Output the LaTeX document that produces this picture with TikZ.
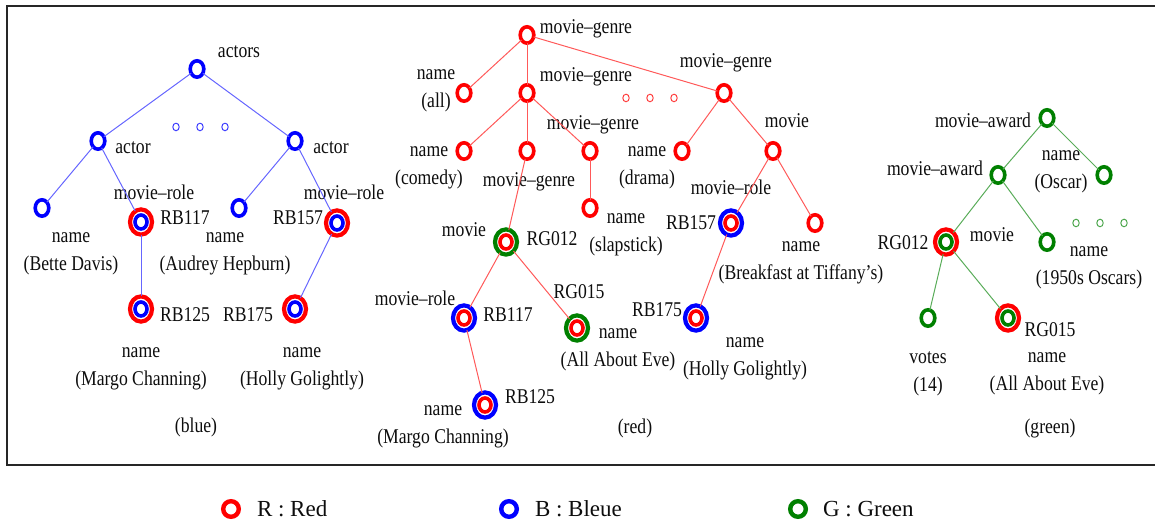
\documentclass[tikz,border=0pt]{standalone}
\usepackage{fontspec}
\setmainfont{Liberation Serif}
\newfontfamily\treefont{Liberation Serif}[FakeStretch=0.84]
\usepackage{tikz}
\usetikzlibrary{shapes.geometric}
\definecolor{darkgreen}{RGB}{0,128,0}

\begin{document}
\begin{tikzpicture}[x=0.5pt,y=-0.5pt,every node/.style={inner sep=0pt,outer sep=0pt},
lbl/.style={font=\treefont\fontsize{10.5pt}{13.75pt}\selectfont,text=black!95,align=center},
key/.style={font=\fontsize{11.5pt}{14pt}\selectfont,text=black!95,anchor=west},
ring/.style={ellipse,draw=#1,line width=1.8pt,minimum width=6.8pt,minimum height=8.2pt},
dring/.style 2 args={ellipse,draw=#1,line width=2.1pt,minimum width=11pt,minimum height=12.6pt,path picture={\draw[#2,line width=1.8pt] (path picture bounding box.center) ellipse (3pt and 3.5pt);}},
dot/.style={ellipse,draw=#1,line width=0.5pt,minimum width=3.2pt,minimum height=3.8pt},
keyring/.style={circle,draw=#1,line width=2.2pt,minimum size=7.8pt},
bline/.style={draw=blue!60,line width=0.5pt},rline/.style={draw=red!65,line width=0.5pt},gline/.style={draw=darkgreen!65,line width=0.5pt}]
\useasboundingbox (0,0) rectangle (1155,522);
\draw[line width=1pt,black!85] (1155,6) -- (7,6) -- (7,465) -- (1155,465);

\node[ring=blue] (bA) at (197,69) {};
\node[ring=blue] (bL) at (98,141) {};
\node[ring=blue] (bR) at (295,141) {};
\node[dot=blue!75] (bd1) at (176,127) {};\node[dot=blue!75] (bd2) at (200,127) {};\node[dot=blue!75] (bd3) at (225,127) {};
\node[ring=blue] (bn1) at (42,208) {};
\node[dring={red}{blue}] (bm1) at (141,222) {};
\node[ring=blue] (bn2) at (239,208) {};
\node[dring={red}{blue}] (bm2) at (337,223) {};
\node[dring={red}{blue}] (bm3) at (141,309) {};
\node[dring={red}{blue}] (bm4) at (295,309) {};
\node[lbl] (tbA) at (239,52) {actors};
\node[lbl] (tbL) at (133,148) {actor};
\node[lbl] (tbR) at (331,148) {actor};
\node[lbl] (tbn1) at (71,254) {name\\(Bette Davis)};
\node[lbl] (tbm1) at (154,192) {movie–role};
\node[lbl] (tbm1id) at (185,218) {RB117};
\node[lbl] (tbn2) at (225,254) {name\\(Audrey Hepburn)};
\node[lbl] (tbm2) at (344,192) {movie–role};
\node[lbl] (tbm2id) at (298,218) {RB157};
\node[lbl] (tbm3id) at (185,315) {RB125};
\node[lbl] (tbm3) at (141,369) {name\\(Margo Channing)};
\node[lbl] (tbm4id) at (248,315) {RB175};
\node[lbl] (tbm4) at (302,369) {name\\(Holly Golightly)};
\node[lbl] (tblue) at (196,427) {(blue)};
\draw[bline] (bA)--(bL);\draw[bline] (bA)--(bR);
\draw[bline] (bL)--(bn1);\draw[bline] (bL)--(bm1);\draw[bline] (bR)--(bn2);\draw[bline] (bR)--(bm2);
\draw[bline] (bm1)--(bm3);\draw[bline] (bm2)--(bm4);

\node[ring=red] (rG0) at (527,35) {};
\node[ring=red] (rAll) at (464,93) {};
\node[ring=red] (rG1) at (527,93) {};
\node[dot=red!75] (rd1) at (626,98) {};\node[dot=red!75] (rd2) at (650,98) {};\node[dot=red!75] (rd3) at (674,98) {};
\node[ring=red] (rG2) at (724,93) {};
\node[ring=red] (rCom) at (464,151) {};
\node[ring=red] (rG3) at (527,151) {};
\node[ring=red] (rG4) at (590,151) {};
\node[ring=red] (rSlap) at (590,208) {};
\node[ring=red] (rDra) at (682,151) {};
\node[ring=red] (rMov) at (773,151) {};
\node[dring={darkgreen}{red}] (rRG12) at (506,242) {};
\node[dring={blue}{red}] (rRB157) at (731,223) {};
\node[ring=red] (rBre) at (815,223) {};
\node[dring={blue}{red}] (rRB117) at (464,318) {};
\node[dring={darkgreen}{red}] (rRG15) at (577,328) {};
\node[dring={blue}{red}] (rRB175) at (696,318) {};
\node[dring={blue}{red}] (rRB125) at (485,405) {};
\node[lbl] (trG0) at (586,29) {movie–genre};
\node[lbl] (trAll) at (436,91) {name\\(all)};
\node[lbl] (trG1) at (586,77) {movie–genre};
\node[lbl] (trG2) at (726,63) {movie–genre};
\node[lbl] (trCom) at (429,168) {name\\(comedy)};
\node[lbl] (trG3) at (529,182) {movie–genre};
\node[lbl] (trG4) at (593,125) {movie–genre};
\node[lbl] (trSlap) at (626,235) {name\\(slapstick)};
\node[lbl] (trDra) at (647,168) {name\\(drama)};
\node[lbl] (trMov) at (787,121) {movie};
\node[lbl] (trRG12) at (464,230) {movie};
\node[lbl] (trRG12id) at (552,239) {RG012};
\node[lbl] (trRB157) at (731,187) {movie–role};
\node[lbl] (trRB157id) at (691,223) {RB157};
\node[lbl] (trBre) at (801,263) {name\\(Breakfast at Tiffany’s)};
\node[lbl] (trRB117) at (415,298) {movie–role};
\node[lbl] (trRB117id) at (508,315) {RB117};
\node[lbl] (trRG15id) at (579,292) {RG015};
\node[lbl] (trRG15) at (618,350) {name\\(All About Eve)};
\node[lbl] (trRB175id) at (657,310) {RB175};
\node[lbl] (trRB175) at (745,359) {name\\(Holly Golightly)};
\node[lbl] (trRB125id) at (530,397) {RB125};
\node[lbl] (trRB125) at (443,427) {name\\(Margo Channing)};
\node[lbl] (tred) at (635,428) {(red)};
\draw[rline] (rG0)--(rAll);\draw[rline] (rG0)--(rG1);\draw[rline] (rG0)--(rG2);
\draw[rline] (rG1)--(rCom);\draw[rline] (rG1)--(rG3);\draw[rline] (rG1)--(rG4);\draw[rline] (rG4)--(rSlap);
\draw[rline] (rG3)--(rRG12);\draw[rline] (rG2)--(rDra);\draw[rline] (rG2)--(rMov);
\draw[rline] (rMov)--(rRB157);\draw[rline] (rMov)--(rBre);\draw[rline] (rRB157)--(rRB175);
\draw[rline] (rRG12)--(rRB117);\draw[rline] (rRG12)--(rRG15);\draw[rline] (rRB117)--(rRB125);

\node[ring=darkgreen] (gA1) at (1047,118) {};
\node[ring=darkgreen] (gA2) at (998,175) {};
\node[ring=darkgreen] (gOsc) at (1104,175) {};
\node[dot=darkgreen!70] (gd1) at (1076,223) {};\node[dot=darkgreen!70] (gd2) at (1100,223) {};\node[dot=darkgreen!70] (gd3) at (1124,223) {};
\node[dring={red}{darkgreen}] (gRG12) at (946,242) {};
\node[ring=darkgreen] (g1950) at (1047,242) {};
\node[ring=darkgreen] (gVot) at (928,318) {};
\node[dring={red}{darkgreen}] (gRG15) at (1008,318) {};
\node[lbl] (tgA1) at (983,120) {movie–award};
\node[lbl] (tgA2) at (935,168) {movie–award};
\node[lbl] (tgOsc) at (1061,172) {name\\(Oscar)};
\node[lbl] (tgRG12id) at (903,243) {RG012};
\node[lbl] (tgRG12) at (992,235) {movie};
\node[lbl] (tg1950) at (1089,268) {name\\(1950s Oscars)};
\node[lbl] (tgVot) at (928,374) {votes\\(14)};
\node[lbl] (tgRG15id) at (1050,330) {RG015};
\node[lbl] (tgRG15) at (1047,374) {name\\(All About Eve)};
\node[lbl] (tgreen) at (1050,428) {(green)};
\draw[gline] (gA1)--(gA2);\draw[gline] (gA1)--(gOsc);
\draw[gline] (gA2)--(gRG12);\draw[gline] (gA2)--(g1950);
\draw[gline] (gRG12)--(gVot);\draw[gline] (gRG12)--(gRG15);

\node[keyring=red] (kR) at (231,509) {};\node[key] (kRt) at (257,509) {R : Red};
\node[keyring=blue] (kB) at (509,509) {};\node[key] (kBt) at (535,509) {B : Bleue};
\node[keyring=darkgreen] (kG) at (798,509) {};\node[key] (kGt) at (823,509) {G : Green};
\end{tikzpicture}
\end{document}
